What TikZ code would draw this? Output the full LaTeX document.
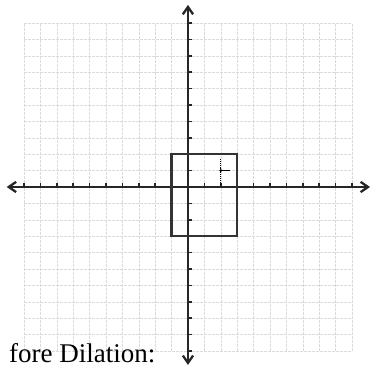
\documentclass[tikz,border=0pt]{standalone}
\usepackage{fontspec}
\setmainfont{Liberation Serif}
\usetikzlibrary{arrows.meta,calc}

\begin{document}
\begin{tikzpicture}[x=16.4pt,y=16.4pt,
  gridline/.style={gray!28,line width=0.5pt,dash pattern=on 3pt off 1pt},
  axisline/.style={line width=2.3pt,black!85,{Straight Barb[length=2.6mm,width=3.6mm]}-{Straight Barb[length=2.6mm,width=3.6mm]}},
  tickmark/.style={line width=1.6pt,black!85},
  figbox/.style={line width=2.2pt,black!80}]
  \useasboundingbox (-11.46,-10.91) rectangle (11.22,11.40);

  % light grid
  \foreach \k in {-10,...,10} {
    \draw[gridline] (\k,-10) -- (\k,10);
    \draw[gridline] (-10,\k) -- (10,\k);
  }

  % axes
  \coordinate (xl) at (-11.05,0);
  \coordinate (xr) at (11.10,0);
  \coordinate (yb) at (0,-10.85);
  \coordinate (yt) at (0,11.10);
  \draw[axisline] (xl) -- (xr);
  \draw[axisline] (yb) -- (yt);
  \foreach \k in {-10,...,-1,1,2,...,10} {
    \draw[tickmark] (\k,-0.05) -- (\k,0.25);
    \draw[tickmark] (-0.05,\k) -- (0.25,\k);
  }

  % rectangle before dilation
  \draw[figbox] (-1,-3) rectangle (3,2);

  % point
  \coordinate (pt) at (2,1);
  \draw[line width=0.9pt,densely dotted] ($(pt)+(0,-0.85)$) -- ($(pt)+(0,0.75)$);
  \draw[line width=0.9pt] (pt) -- ++(0.55,0);
  \fill (pt) circle (1.6pt);

  \node[anchor=south east,font=\fontsize{27}{30}\selectfont,inner sep=0pt] (caption) at (-1.98,-10.76) {fore Dilation:};
\end{tikzpicture}
\end{document}
